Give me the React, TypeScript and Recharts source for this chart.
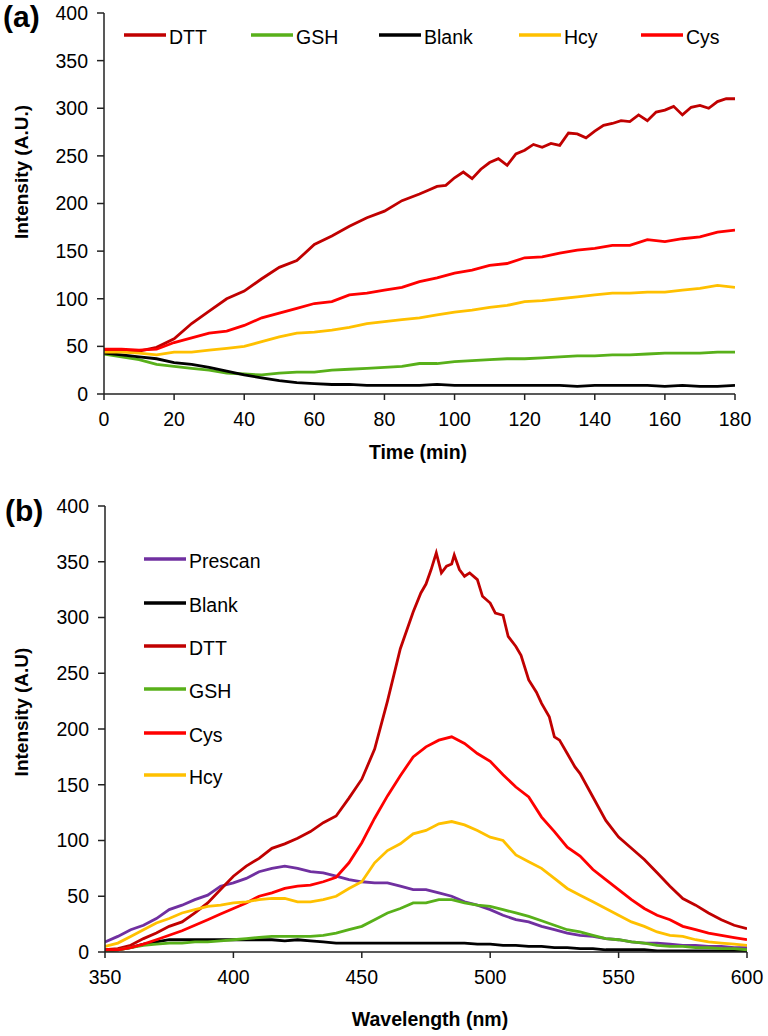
import { LineChart, Line, XAxis, YAxis } from "recharts";

const FONT = '"Liberation Sans", Arial, Helvetica, sans-serif';

// ---- (a) intensity vs time, read every 5 min ----
const timeMin = [
  0, 5, 10, 15, 20, 25, 30, 35, 40, 45, 50, 55, 60, 65, 70, 75, 80, 85, 90, 95, 100, 105, 110, 115, 120, 125,
  130, 135, 140, 145, 150, 155, 160, 165, 170, 175, 180,
];
// DTT is noisier after 90 min, so it was read a bit finer there
const dttTime = [
  0, 5, 10, 15, 20, 25, 30, 35, 40, 45, 50, 55, 60, 65, 70, 75, 80, 85, 90, 92.5, 95, 97.5, 100, 102.5, 105,
  107.5, 110, 112.5, 115, 117.5, 120, 122.5, 125, 127.5, 130, 132.5, 135, 137.5, 140, 142.5, 145, 147.5, 150,
  152.5, 155, 157.5, 160, 162.5, 165, 167.5, 170, 172.5, 175, 177.5, 180,
];
const dttA = [
  45, 46, 45, 49, 58, 74, 87, 100, 108, 121, 133, 140, 157, 166, 176, 185, 192, 203, 210, 214, 218, 219, 227,
  233, 226, 236, 243, 247, 240, 252, 256, 262, 259, 263, 261, 274, 273, 269, 276, 282, 284, 287, 286, 293, 287,
  296, 298, 302, 293, 301, 303, 300, 307, 310, 310,
];
const gshA = [
  42, 39, 36, 31, 29, 27, 25, 22, 21, 20, 22, 23, 23, 25, 26, 27, 28, 29, 32, 32, 34, 35, 36, 37, 37, 38, 39, 40,
  40, 41, 41, 42, 43, 43, 43, 44, 44,
];
const blankA = [
  43, 41, 39, 37, 33, 31, 28, 24, 20, 17, 14, 12, 11, 10, 10, 9, 9, 9, 9, 10, 9, 9, 9, 9, 9, 9, 9, 8, 9, 9, 9, 9,
  8, 9, 8, 8, 9,
];
const hcyA = [
  44, 44, 43, 41, 44, 44, 46, 48, 50, 55, 60, 64, 65, 67, 70, 74, 76, 78, 80, 83, 86, 88, 91, 93, 97, 98, 100,
  102, 104, 106, 106, 107, 107, 109, 111, 114, 112,
];
const cysA = [
  47, 47, 46, 47, 54, 59, 64, 66, 72, 80, 85, 90, 95, 97, 104, 106, 109, 112, 118, 122, 127, 130, 135, 137, 143,
  144, 148, 151, 153, 156, 156, 162, 160, 163, 165, 170, 172,
];

// ---- (b) emission spectra, read every 5 nm ----
const wavelength = [
  350, 355, 360, 365, 370, 375, 380, 385, 390, 395, 400, 405, 410, 415, 420, 425, 430, 435, 440, 445, 450, 455,
  460, 465, 470, 475, 480, 485, 490, 495, 500, 505, 510, 515, 520, 525, 530, 535, 540, 545, 550, 555, 560, 565,
  570, 575, 580, 585, 590, 595, 600,
];
const prescanB = [
  9, 14, 20, 24, 30, 38, 42, 47, 51, 59, 62, 66, 72, 75, 77, 75, 72, 71, 68, 65, 63, 62, 62, 59, 56, 56, 53, 50,
  45, 42, 38, 33, 29, 27, 23, 20, 17, 15, 14, 12, 11, 9, 8, 8, 7, 6, 6, 5, 5, 4, 4,
];
const blankB = [
  1, 2, 4, 7, 9, 11, 11, 11, 11, 11, 11, 11, 11, 11, 10, 11, 10, 9, 8, 8, 8, 8, 8, 8, 8, 8, 8, 8, 8, 7, 7, 6, 6,
  5, 5, 4, 4, 3, 3, 2, 2, 2, 2, 1, 1, 1, 1, 1, 1, 1, 1,
];
const gshB = [
  1, 2, 4, 6, 7, 8, 8, 9, 9, 10, 11, 12, 13, 14, 14, 14, 14, 15, 17, 20, 23, 29, 35, 39, 44, 44, 47, 47, 44, 42,
  41, 38, 35, 32, 28, 24, 20, 18, 15, 12, 11, 9, 8, 6, 5, 5, 4, 4, 3, 3, 2,
];
const hcyB = [
  5, 8, 14, 20, 26, 30, 35, 38, 41, 42, 44, 45, 47, 48, 48, 45, 45, 47, 50, 57, 63, 80, 91, 97, 106, 109, 115,
  117, 114, 109, 103, 100, 87, 81, 75, 66, 57, 51, 45, 39, 33, 27, 23, 18, 15, 14, 11, 9, 8, 7, 6,
];
const cysB = [
  2, 2, 4, 7, 11, 15, 19, 24, 29, 34, 39, 44, 50, 53, 57, 59, 60, 63, 67, 80, 98, 120, 140, 158, 175, 184, 190,
  193, 187, 178, 171, 159, 148, 139, 121, 108, 94, 86, 74, 65, 56, 47, 39, 33, 29, 23, 20, 17, 15, 13, 11,
];
// DTT has sharp spikes near its maximum, read finer around the peak
const dttNm = [
  350, 355, 360, 365, 370, 375, 380, 385, 390, 395, 400, 405, 410, 415, 420, 425, 430, 435, 440, 445, 450, 455,
  460, 465, 470, 473, 475, 477, 479, 481, 483, 485, 486, 488, 490, 492, 495, 497, 500, 502, 505, 507, 510, 512,
  515, 518, 520, 523, 525, 527, 530, 533, 535, 540, 545, 550, 555, 560, 565, 570, 575, 580, 585, 590, 595, 600,
];
const dttB = [
  2, 3, 6, 12, 17, 23, 27, 35, 44, 56, 68, 77, 84, 93, 97, 102, 108, 116, 122, 138, 155, 182, 225, 272, 305, 322,
  330, 343, 358, 340, 346, 348, 356, 343, 337, 340, 334, 319, 313, 304, 302, 283, 274, 266, 244, 233, 223, 211,
  193, 190, 178, 166, 160, 139, 118, 103, 93, 83, 71, 59, 48, 42, 35, 29, 24, 21,
];

const intensityTicks = [0, 50, 100, 150, 200, 250, 300, 350, 400];
const timeTicks = [0, 20, 40, 60, 80, 100, 120, 140, 160, 180];
const nmTicks = [350, 400, 450, 500, 550, 600];

const COLORS = {
  dtt: "#C00000",
  gsh: "#58B01A",
  blank: "#000000",
  hcy: "#FFC000",
  cys: "#FF0000",
  prescan: "#7030A0",
};

const toPoints = (xs: number[], ys: number[]) => xs.map((x, i) => ({ x, y: ys[i] }));

const seriesA = [
  { name: "DTT", color: COLORS.dtt, data: toPoints(dttTime, dttA) },
  { name: "GSH", color: COLORS.gsh, data: toPoints(timeMin, gshA) },
  { name: "Blank", color: COLORS.blank, data: toPoints(timeMin, blankA) },
  { name: "Hcy", color: COLORS.hcy, data: toPoints(timeMin, hcyA) },
  { name: "Cys", color: COLORS.cys, data: toPoints(timeMin, cysA) },
];

const seriesB = [
  { name: "Prescan", color: COLORS.prescan, data: toPoints(wavelength, prescanB) },
  { name: "Blank", color: COLORS.blank, data: toPoints(wavelength, blankB) },
  { name: "DTT", color: COLORS.dtt, data: toPoints(dttNm, dttB) },
  { name: "GSH", color: COLORS.gsh, data: toPoints(wavelength, gshB) },
  { name: "Cys", color: COLORS.cys, data: toPoints(wavelength, cysB) },
  { name: "Hcy", color: COLORS.hcy, data: toPoints(wavelength, hcyB) },
];

const tickStyle = { fill: "#000", fontSize: 19.5, fontFamily: FONT };
const axisLine = { stroke: "#222", strokeWidth: 1.5 };

type Series = { name: string; color: string; data: { x: number; y: number }[] };

function Panel({
  series,
  xDomain,
  xTicks,
  width,
  height,
  margin,
}: {
  series: Series[];
  xDomain: [number, number];
  xTicks: number[];
  width: number;
  height: number;
  margin: { top: number; right: number; bottom: number; left: number };
}) {
  return (
    <LineChart width={width} height={height} margin={margin}>
      <XAxis
        type="number"
        dataKey="x"
        domain={xDomain}
        ticks={xTicks}
        allowDataOverflow
        height={30}
        tick={tickStyle}
        tickSize={6}
        tickMargin={12}
        axisLine={axisLine}
        tickLine={axisLine}
      />
      <YAxis
        type="number"
        dataKey="y"
        domain={[0, 400]}
        ticks={intensityTicks}
        allowDataOverflow
        width={60}
        tick={tickStyle}
        tickSize={7}
        tickMargin={9}
        axisLine={axisLine}
        tickLine={axisLine}
      />
      {series.map((s) => (
        <Line
          key={s.name}
          data={s.data}
          dataKey="y"
          name={s.name}
          type="linear"
          stroke={s.color}
          strokeWidth={2.8}
          dot={false}
          activeDot={false}
          isAnimationActive={false}
        />
      ))}
    </LineChart>
  );
}

// legend swatch + label, page coordinates
function Key({ x, y, color, label }: { x: number; y: number; color: string; label: string }) {
  return (
    <g>
      <line x1={x} x2={x + 42} y1={y} y2={y} stroke={color} strokeWidth={3.5} />
      <text x={x + 45} y={y + 2} dominantBaseline="central" fontSize={19.5} fontFamily={FONT} fill="#000">
        {label}
      </text>
    </g>
  );
}

const legendA = [
  { x: 124, label: "DTT", color: COLORS.dtt },
  { x: 251, label: "GSH", color: COLORS.gsh },
  { x: 379, label: "Blank", color: COLORS.blank },
  { x: 519, label: "Hcy", color: COLORS.hcy },
  { x: 641, label: "Cys", color: COLORS.cys },
];

const legendB = [
  { y: 559, label: "Prescan", color: COLORS.prescan },
  { y: 603, label: "Blank", color: COLORS.blank },
  { y: 646, label: "DTT", color: COLORS.dtt },
  { y: 689, label: "GSH", color: COLORS.gsh },
  { y: 733, label: "Cys", color: COLORS.cys },
  { y: 775, label: "Hcy", color: COLORS.hcy },
];

export default function App() {
  return (
    <div style={{ position: "absolute", left: 0, top: 0, width: 768, height: 1036, background: "#fff" }}>
      <div style={{ position: "absolute", left: 0, top: 0 }}>
        <Panel
          series={seriesA}
          xDomain={[0, 180]}
          xTicks={timeTicks}
          width={768}
          height={440}
          margin={{ top: 13, right: 33, bottom: 16, left: 44 }}
        />
      </div>
      <div style={{ position: "absolute", left: 0, top: 480 }}>
        <Panel
          series={seriesB}
          xDomain={[350, 600]}
          xTicks={nmTicks}
          width={768}
          height={520}
          margin={{ top: 26, right: 21, bottom: 18, left: 45 }}
        />
      </div>
      <svg
        width={768}
        height={1036}
        style={{ position: "absolute", left: 0, top: 0, pointerEvents: "none" }}
      >
        <text x={3} y={27} fontSize={30} fontWeight="bold" fontFamily={FONT} fill="#000">
          (a)
        </text>
        <text x={5} y={521} fontSize={30} fontWeight="bold" fontFamily={FONT} fill="#000">
          (b)
        </text>
        <text
          transform="translate(28,172) rotate(-90)"
          textAnchor="middle"
          fontSize={19}
          fontWeight="bold"
          fontFamily={FONT}
          fill="#000"
        >
          Intensity (A.U.)
        </text>
        <text
          transform="translate(28,712) rotate(-90)"
          textAnchor="middle"
          fontSize={19}
          fontWeight="bold"
          fontFamily={FONT}
          fill="#000"
        >
          Intensity (A.U)
        </text>
        <text x={418} y={459} textAnchor="middle" fontSize={19.5} fontWeight="bold" fontFamily={FONT} fill="#000">
          Time (min)
        </text>
        <text x={430} y={1026} textAnchor="middle" fontSize={19.5} fontWeight="bold" fontFamily={FONT} fill="#000">
          Wavelength (nm)
        </text>
        {legendA.map((k) => (
          <Key key={k.label} x={k.x} y={35} color={k.color} label={k.label} />
        ))}
        {legendB.map((k) => (
          <Key key={k.label} x={144} y={k.y} color={k.color} label={k.label} />
        ))}
      </svg>
    </div>
  );
}
